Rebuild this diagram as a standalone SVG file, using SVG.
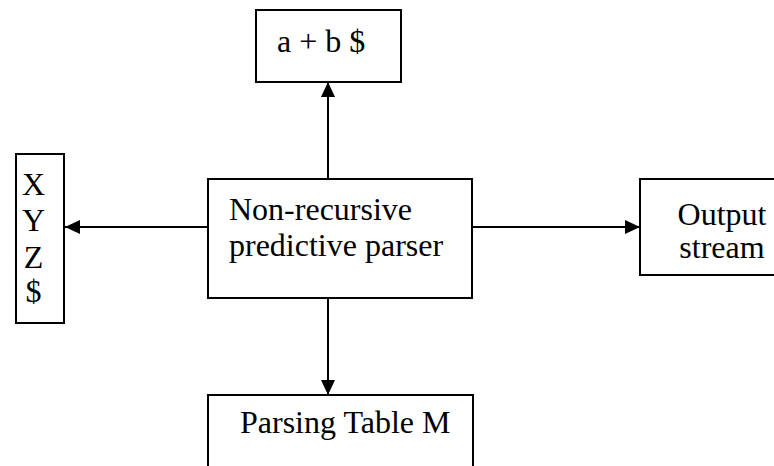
<svg xmlns="http://www.w3.org/2000/svg" width="774" height="466" viewBox="0 0 774 466">
<style>
.box{fill:#fff;stroke:#000;stroke-width:2}
.lbl{font-family:"Liberation Serif","Times New Roman",serif;font-size:32px;fill:#000}
.conn{stroke:#000;stroke-width:2;fill:none}
</style>
<defs>
<marker id="arr" markerUnits="userSpaceOnUse" markerWidth="16" markerHeight="16" viewBox="0 0 16 16" refX="15" refY="8" orient="auto">
<path d="M0,1 L15,8 L0,15 Z" fill="#000"/>
</marker>
</defs>
<rect width="774" height="466" fill="#fff"/>
<g id="input">
<rect class="box" x="256" y="10" width="145" height="72"/>
<text class="lbl" x="277" y="52">a + b $</text>
</g>
<g id="stack">
<rect class="box" x="16" y="154" width="48" height="169"/>
<text class="lbl" x="33.5" y="195" text-anchor="middle">X</text>
<text class="lbl" x="33.5" y="231" text-anchor="middle">Y</text>
<text class="lbl" x="33.5" y="268" text-anchor="middle">Z</text>
<text class="lbl" x="33.5" y="302" text-anchor="middle">$</text>
</g>
<g id="parser">
<rect class="box" x="208" y="179" width="264" height="119"/>
<text class="lbl" x="229" y="220">Non-recursive</text>
<text class="lbl" x="229" y="256">predictive parser</text>
</g>
<g id="output">
<rect class="box" x="640" y="179" width="150" height="96"/>
<text class="lbl" x="722" y="225" text-anchor="middle">Output</text>
<text class="lbl" x="722" y="258" text-anchor="middle">stream</text>
</g>
<g id="table">
<rect class="box" x="208" y="395" width="265" height="80"/>
<text class="lbl" x="240" y="433">Parsing Table M</text>
</g>
<g id="connectors">
<line class="conn" x1="328" y1="179" x2="328" y2="82" marker-end="url(#arr)"/>
<line class="conn" x1="328" y1="298" x2="328" y2="395" marker-end="url(#arr)"/>
<line class="conn" x1="208" y1="227" x2="65" y2="227" marker-end="url(#arr)"/>
<line class="conn" x1="472" y1="227" x2="640" y2="227" marker-end="url(#arr)"/>
</g>
</svg>
